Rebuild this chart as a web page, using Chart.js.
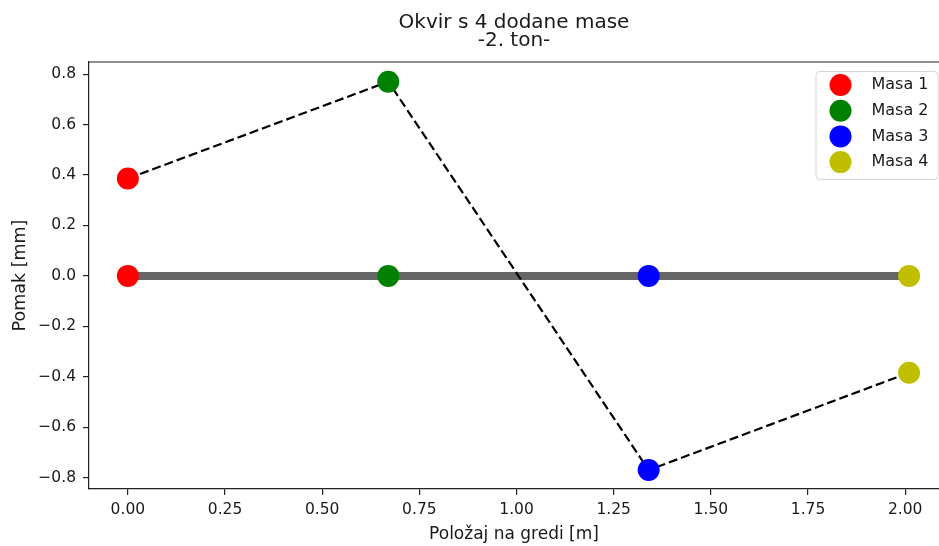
<!DOCTYPE html>
<html>
<head>
<meta charset="utf-8">
<script src="https://cdn.jsdelivr.net/npm/chart.js@4.4.1/dist/chart.umd.min.js"></script>
<style>
  html, body { margin: 0; padding: 0; background: #fff; overflow: hidden; }
  #chart { display: block; }
</style>
</head>
<body>
<canvas id="chart" width="939" height="546"></canvas>
<script>
// data
const massLabels = ['Masa 1', 'Masa 2', 'Masa 3', 'Masa 4'];
const positions = [0, 0.67, 1.34, 2.01];
const displacements = [0.386, 0.77, -0.77, -0.384];
const xTicks = [0, 0.25, 0.5, 0.75, 1, 1.25, 1.5, 1.75, 2];
const yTicks = [-0.8, -0.6, -0.4, -0.2, 0, 0.2, 0.4, 0.6, 0.8];

const massColors = ['#ff0000', '#008000', '#0000ff', '#bfbf00'];
const TEXT = '#1a1a1a';
const FONT = 'DejaVu Sans';

Chart.defaults.font.family = FONT;
Chart.defaults.color = TEXT;

const minus = s => s.replace('-', '\u2212');

// one dataset per mass: resting point on the beam + displaced point
const massSets = massLabels.map((label, i) => ({
  label,
  isMass: true,
  data: [{x: positions[i], y: 0}, {x: positions[i], y: displacements[i]}],
  showLine: false,
  pointRadius: 11,
  pointHoverRadius: 11,
  pointBackgroundColor: massColors[i],
  pointBorderColor: massColors[i],
  pointBorderWidth: 0,
  order: 0
}));

const shapeSet = {
  label: 'shape',
  data: positions.map((x, i) => ({x, y: displacements[i]})),
  showLine: true,
  borderColor: '#000',
  borderWidth: 2.2,
  borderDash: [9, 4],
  pointRadius: 0,
  order: 1
};

const beamSet = {
  label: 'beam',
  data: [{x: positions[0], y: 0}, {x: positions[positions.length - 1], y: 0}],
  showLine: true,
  borderColor: '#666666',
  borderWidth: 8,
  pointRadius: 0,
  order: 2
};

// top spine (the right one is cut off in the original)
const frame = {
  id: 'frame',
  afterDraw(chart){
    const {ctx, chartArea: a} = chart;
    ctx.save();
    ctx.strokeStyle = '#222';
    ctx.lineWidth = 1.2;
    ctx.beginPath();
    ctx.moveTo(a.left, a.top);
    ctx.lineTo(a.right, a.top);
    ctx.stroke();
    ctx.restore();
  }
};

// legend box inside the axes, upper right
const innerLegend = {
  id: 'innerLegend',
  afterDraw(chart){
    const {ctx, chartArea: a} = chart;
    const sets = chart.data.datasets.filter(d => d.isMass);
    const w = 122, h = 108;
    const left = a.right - 1.5 - w, top = a.top + 9;
    ctx.save();
    ctx.beginPath();
    ctx.roundRect(left + 0.5, top + 0.5, w, h, 4);
    ctx.fillStyle = 'rgba(255,255,255,0.8)';
    ctx.fill();
    ctx.strokeStyle = 'rgba(204,204,204,0.8)';
    ctx.lineWidth = 1;
    ctx.stroke();
    ctx.font = `16px "${FONT}"`;
    ctx.textBaseline = 'middle';
    ctx.textAlign = 'left';
    sets.forEach((d, i) => {
      const cy = top + 14 + i * 25.7;
      ctx.beginPath();
      ctx.arc(left + 25, cy, 11, 0, Math.PI * 2);
      ctx.fillStyle = d.pointBackgroundColor;
      ctx.fill();
      ctx.fillStyle = TEXT;
      ctx.fillText(d.label, left + 56, cy);
    });
    ctx.restore();
  }
};

new Chart(document.getElementById('chart'), {
  type: 'scatter',
  data: { datasets: [...massSets, shapeSet, beamSet] },
  options: {
    responsive: false,
    animation: false,
    devicePixelRatio: 1,
    layout: { padding: 0, autoPadding: false },
    plugins: {
      legend: { display: false },
      tooltip: { enabled: false },
      title: {
        display: true,
        text: ['Okvir s 4 dodane mase', '-2. ton-'],
        fullSize: false,
        color: TEXT,
        font: { size: 20, weight: 'normal', lineHeight: 0.91 },
        padding: { top: 13.9, bottom: 11.7 }
      }
    },
    scales: {
      x: {
        type: 'linear',
        min: -0.1,
        max: 2.087,
        afterBuildTicks: s => { s.ticks = xTicks.map(v => ({value: v})); },
        afterFit: s => { s.height = 57; s.paddingLeft = 0; s.paddingRight = 0; },
        ticks: {
          font: { size: 15.5 },
          padding: 6,
          maxRotation: 0,
          callback: v => minus(Number(v).toFixed(2))
        },
        grid: { drawOnChartArea: false, drawTicks: true, tickLength: 6, color: '#222', lineWidth: 1.2 },
        border: { display: true, color: '#222', width: 1.2 },
        title: {
          display: true,
          text: 'Položaj na gredi [m]',
          font: { size: 17 },
          padding: { top: 0, bottom: 1 }
        }
      },
      y: {
        type: 'linear',
        min: -0.845,
        max: 0.848,
        afterBuildTicks: s => { s.ticks = yTicks.map(v => ({value: v})); },
        afterFit: s => { s.width = 89; },
        ticks: {
          font: { size: 15.5 },
          padding: 7,
          callback: v => minus(Number(v).toFixed(1))
        },
        grid: { drawOnChartArea: false, drawTicks: true, tickLength: 6, color: '#222', lineWidth: 1.2 },
        border: { display: true, color: '#222', width: 1.2 },
        title: {
          display: true,
          text: 'Pomak [mm]',
          font: { size: 17.5 },
          padding: { top: 10, bottom: 0 }
        }
      }
    }
  },
  plugins: [frame, innerLegend]
});
</script>
</body>
</html>
